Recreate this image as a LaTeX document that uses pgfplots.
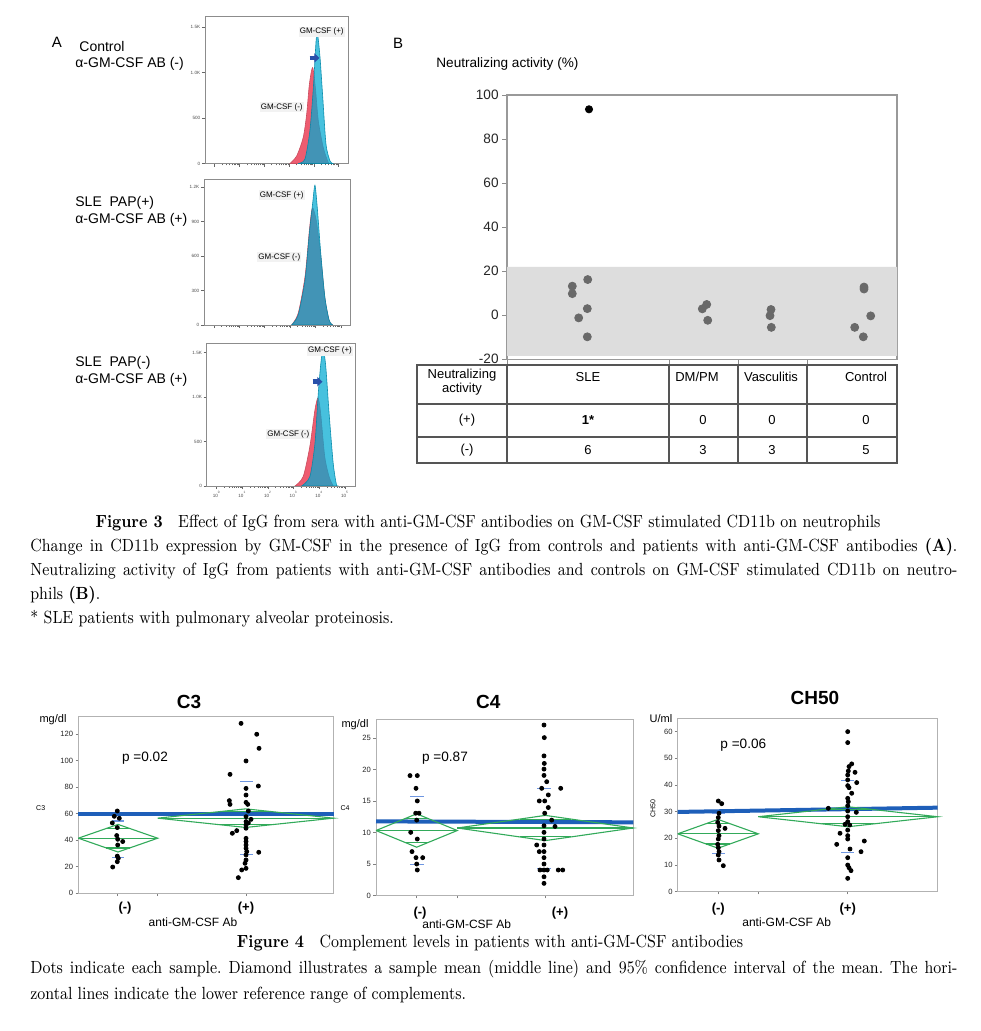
\documentclass[border=0pt]{standalone}
\usepackage{fontspec}
\usepackage{graphicx}
\usepackage{pgfplots}
\pgfplotsset{compat=1.18}
\usetikzlibrary{arrows.meta}
\newfontfamily\arial{Liberation Sans}
\frenchspacing

\definecolor{fcred}{RGB}{238,92,112}
\definecolor{fccyan}{RGB}{0,170,210}
\definecolor{arrowblue}{RGB}{40,80,170}
\definecolor{jblue}{RGB}{30,95,185}
\definecolor{jgreen}{RGB}{50,170,90}
\definecolor{sdblue}{RGB}{110,150,225}
\definecolor{ptgray}{RGB}{105,105,105}
\definecolor{bandgray}{RGB}{221,221,221}
\definecolor{tabline}{RGB}{85,85,85}

% condensed caption line: text stretched to the given width, then narrowed
\newcommand{\capline}[2]{\scalebox{0.88}[1]{\makebox[#1][s]{#2}}}
\newcommand{\capshort}[1]{\scalebox{0.88}[1]{#1}}

\pgfplotsset{
  histo/.style={scale only axis, anchor=south west, xmin=-0.39, xmax=5.39, ymin=0,
    axis line style={draw=black!45, line width=0.4pt},
    tick pos=left, tick align=outside, major tick length=1.6pt, minor tick length=0.9pt,
    every tick/.style={black!60, line width=0.3pt},
    xtick={0,1,2,3,4,5},
    minor xtick={0.301,0.477,0.602,0.699,0.778,0.845,0.903,0.954,1.301,1.477,1.602,1.699,1.778,1.845,1.903,1.954,2.301,2.477,2.602,2.699,2.778,2.845,2.903,2.954,3.301,3.477,3.602,3.699,3.778,3.845,3.903,3.954,4.301,4.477,4.602,4.699,4.778,4.845,4.903,4.954},
    xticklabels={},
    ticklabel style={font=\arial\fontsize{2.3}{2.5}\selectfont, text=black!70, inner sep=0.6pt}},
  redh/.style={fill=fcred, draw=fcred!85!black, line width=0.3pt, smooth, tension=0.45},
  cyanh/.style={fill=fccyan, fill opacity=0.72, draw=fccyan!80!black, draw opacity=0.9, line width=0.3pt, smooth, tension=0.45},
  comp/.style={scale only axis, anchor=south west, ymin=0,
    axis line style={draw=black!30, line width=0.5pt},
    tick pos=left, tick align=outside, major tick length=1.4pt,
    every tick/.style={black!50, line width=0.35pt},
    xticklabels={},
    /pgf/number format/assume math mode=true,
    yticklabel style={font=\arial\fontsize{3.8}{4}\selectfont, text=black!85, inner sep=1pt},
    clip=false},
  dots/.style={only marks, mark=*, mark size=1pt, black},
  dia/.style={jgreen, line width=0.55pt},
  sd/.style={sdblue, line width=0.6pt},
  refline/.style={jblue, line width=2pt},
}

\begin{document}
\begin{tikzpicture}
\fill[white] (0,0) rectangle (490pt,515.5pt);
\useasboundingbox (0,0) rectangle (490pt,515.5pt);

%% ---------- Figure 3 A: histograms ----------
\begin{axis}[histo, at={(102.5pt,433.75pt)}, width=71.65pt, height=73.75pt,
  ymax=1620, ytick={0,500,1000,1500}, yticklabels={0,500,1.0K,1.5K}]
\addplot[redh] coordinates {(3.04,0)(3.31,84)(3.57,285)(3.71,540)(3.82,870)(3.95,1054)(4.06,834)(4.18,468)(4.38,175)(4.58,11)(4.65,0)} \closedcycle;
\addplot[cyanh] coordinates {(3.37,0)(3.64,48)(3.84,359)(3.98,834)(4.09,1347)(4.15,1420)(4.25,1164)(4.36,725)(4.49,212)(4.65,29)(4.76,0)} \closedcycle;
\end{axis}

\begin{axis}[histo, at={(102pt,353pt)}, width=73.35pt, height=73pt,
  ymax=1270, ytick={0,300,600,900,1200}, yticklabels={0,300,600,900,1.2K}]
\addplot[redh] coordinates {(3.06,0)(3.32,100)(3.59,420)(3.76,820)(3.85,990)(3.91,1013)(4.04,900)(4.20,620)(4.37,240)(4.54,40)(4.68,0)} \closedcycle;
\addplot[cyanh] coordinates {(3.06,0)(3.32,87)(3.59,391)(3.76,796)(3.89,1057)(3.98,1216)(4.07,1028)(4.20,652)(4.37,246)(4.54,43)(4.68,0)} \closedcycle;
\end{axis}

\begin{axis}[histo, at={(103.35pt,272.5pt)}, width=74.15pt, height=71.35pt,
  ymax=1603, ytick={0,500,1000,1500}, yticklabels={0,500,1.0K,1.5K},
  xticklabels={10\textsuperscript{0},10\textsuperscript{1},10\textsuperscript{2},10\textsuperscript{3},10\textsuperscript{4},10\textsuperscript{5}}]
\addplot[redh] coordinates {(3.05,0)(3.37,105)(3.63,444)(3.83,857)(3.95,989)(4.05,820)(4.21,331)(4.38,105)(4.54,0)} \closedcycle;
\addplot[cyanh] coordinates {(3.31,0)(3.63,105)(3.83,481)(3.95,1008)(4.06,1384)(4.15,1534)(4.25,1346)(4.38,820)(4.54,256)(4.67,10)(4.73,0)} \closedcycle;
\end{axis}

%% ---------- Figure 3 B: neutralizing activity ----------
\begin{axis}[scale only axis, anchor=south west, at={(253.5pt,335.85pt)},
  width=195pt, height=132.15pt,
  xmin=507, xmax=897, ymin=-20, ymax=100,
  ytick={-20,0,20,40,60,80,100},
  xtick={507,669,738,807}, xticklabels={},
  axis line style={draw=black!40, line width=0.6pt},
  tick pos=left, tick align=outside, major tick length=2.5pt,
  every tick/.style={black!45, line width=0.4pt},
  /pgf/number format/assume math mode=true,
  yticklabel style={font=\arial\fontsize{6.8}{7}\selectfont, text=black!85, inner sep=1.5pt}]
\addplot[fill=bandgray, draw=none] coordinates {(507,-18.5)(897,-18.5)(897,22)(507,22)(507,-18.5)};
\addplot[only marks, mark=*, mark size=2pt, ptgray] coordinates {
  (572.3,13.2)(572.3,9.8)(587.7,16.2)(587.3,3.0)(578.7,-1.2)(587.3,-9.8)
  (702.3,2.9)(706.7,4.9)(707.7,-2.3)
  (771,2.6)(770,-0.2)(771.3,-5.5)
  (864,12.8)(864,11.9)(870.7,-0.3)(854.7,-5.5)(863.3,-9.8)};
\addplot[only marks, mark=*, mark size=1.8pt, black] coordinates {(589,93.5)};
\end{axis}

%% ---------- Figure 4: C3 ----------
\begin{axis}[comp, at={(39.15pt,68.85pt)}, width=127.6pt, height=88.15pt,
  xmin=78.3, xmax=333.5, ymax=132.8, ytick={0,20,40,60,80,100,120},
  xtick={117.5,157.7,246}]
\addplot[refline] coordinates {(78.3,59.7)(333.5,59.7)};
\addplot[dia] coordinates {(78.3,41.5)(118,51.9)(157.7,41.5)(118,31.1)(78.3,41.5)};
\addplot[dia] coordinates {(78.3,41.5)(157.7,41.5)};
\addplot[dia] coordinates {(106.4,48.85)(129.6,48.85)};
\addplot[dia] coordinates {(106.4,34.15)(129.6,34.15)};
\addplot[dia] coordinates {(157.7,56.6)(245.6,63.6)(333.5,56.6)(245.6,49.6)(157.7,56.6)};
\addplot[dia] coordinates {(157.7,56.6)(333.5,56.6)};
\addplot[dia] coordinates {(219.8,61.55)(271.4,61.55)};
\addplot[dia] coordinates {(219.8,51.65)(271.4,51.65)};
\addplot[sd] coordinates {(112,54.5)(124,54.5)};
\addplot[sd] coordinates {(112,27)(124,27)};
\addplot[sd] coordinates {(240,84)(253,84)};
\addplot[sd] coordinates {(240,29.4)(253,29.4)};
\addplot[dots] coordinates {(117.3,62)(114.3,58)(119.3,56.5)(112.3,53)(117.3,49.5)(116.7,43.5)(117.7,40.7)(122.7,39)(117.7,36.4)(117.3,28)(118.3,26.4)(117.3,23.8)(112.7,19.8)};
\addplot[dots] coordinates {(241,128)(256.7,119.8)(259,109.2)(246,99.7)(230,89.6)(258.3,80.8)(246,79)(246,74)(229.3,69.8)(246,68.5)(230,67)(247.7,67)(248.3,62)(246,57.7)(251,55.7)(246,54)(248.3,53)(246,51.5)(246,49)(236.7,47.2)(232.3,45.2)(246,41.4)(246,39)(246,36.4)(246,33.9)(246.7,31.4)(258.7,30.9)(246,28.9)(246,25.1)(245,22.6)(246,18.8)(241.7,17.6)(238.3,11.8)};
\end{axis}

%% ---------- Figure 4: C4 ----------
\begin{axis}[comp, at={(188pt,67.65pt)}, width=128.65pt, height=87.85pt,
  xmin=376, xmax=633.3, ymax=27.9, ytick={0,5,10,15,20,25},
  xtick={416.7,457.3,545}]
\addplot[refline] coordinates {(376,11.8)(633.3,11.65)};
\addplot[dia] coordinates {(376,10.35)(416.65,13)(457.3,10.35)(416.65,7.7)(376,10.35)};
\addplot[dia] coordinates {(376,10.35)(457.3,10.35)};
\addplot[dia] coordinates {(404.75,12.22)(428.55,12.22)};
\addplot[dia] coordinates {(404.75,8.48)(428.55,8.48)};
\addplot[dia] coordinates {(457.3,10.75)(545.3,12.75)(633.3,10.75)(545.3,8.75)(457.3,10.75)};
\addplot[dia] coordinates {(457.3,10.75)(633.3,10.75)};
\addplot[dia] coordinates {(519.5,12.16)(571.1,12.16)};
\addplot[dia] coordinates {(519.5,9.34)(571.1,9.34)};
\addplot[sd] coordinates {(410,15.7)(424,15.7)};
\addplot[sd] coordinates {(410,5.0)(424,5.0)};
\addplot[sd] coordinates {(537,17.05)(551,17.05)};
\addplot[sd] coordinates {(537,4.3)(551,4.3)};
\addplot[dots] coordinates {(410,19.07)(417.3,19.07)(416,17.05)(417.3,15.04)(415.7,13.1)(419,13.1)(416.7,12.0)(410.7,10.06)(417.3,9.0)(412,7.0)(416,6.04)(422.7,6.04)(416.7,5.03)(417.3,4.08)};
\addplot[dots] coordinates {(544,27.1)(544.3,25.1)(544,22.2)(544.3,21.0)(544,20.1)(544,19.1)(546.7,18.1)(541.7,17.05)(560.7,17.05)(548.3,16.0)(539.3,15.04)(544.7,15.04)(548.3,14.0)(544.7,13.1)(551.7,12.0)(544,11.1)(555,11.0)(544,10.06)(544,9.0)(544,8.05)(536.7,8.05)(539.3,7.0)(544,7.0)(544,6.04)(544,5.03)(540,4.08)(544,4.08)(547.3,4.08)(558.3,4.08)(562.7,4.08)(544,3.0)(544,1.96)};
\end{axis}

%% ---------- Figure 4: CH50 ----------
\begin{axis}[comp, at={(338.85pt,69.65pt)}, width=130pt, height=86.7pt,
  xmin=677.7, xmax=937.7, ymax=65, ytick={0,10,20,30,40,50,60},
  xtick={718.3,758.3,847.7}]
\addplot[refline] coordinates {(677.7,29.9)(937.7,31.5)};
\addplot[dia] coordinates {(677.7,21.7)(718,27.1)(758.3,21.7)(718,16.3)(677.7,21.7)};
\addplot[dia] coordinates {(677.7,21.7)(758.3,21.7)};
\addplot[dia] coordinates {(706.2,25.52)(729.8,25.52)};
\addplot[dia] coordinates {(706.2,17.88)(729.8,17.88)};
\addplot[dia] coordinates {(758.3,28.1)(848,31.85)(937.7,28.1)(848,24.35)(758.3,28.1)};
\addplot[dia] coordinates {(758.3,28.1)(937.7,28.1)};
\addplot[dia] coordinates {(821.7,30.75)(874.3,30.75)};
\addplot[dia] coordinates {(821.7,25.45)(874.3,25.45)};
\addplot[sd] coordinates {(712,29.3)(725,29.3)};
\addplot[sd] coordinates {(712,14.2)(725,14.2)};
\addplot[sd] coordinates {(841,41.6)(854,41.6)};
\addplot[sd] coordinates {(841,14.6)(854,14.6)};
\addplot[dots] coordinates {(718.3,34)(721.7,33)(719,29.4)(718.3,27.8)(717.7,26)(719,24.6)(725,23.75)(718.3,22.9)(719,21)(718.3,19.75)(717.7,17.75)(718.3,16.5)(719,15)(718.3,13.75)(719,11.9)(723.3,9.75)};
\addplot[dots] coordinates {(847.7,60)(847.7,55.9)(851.7,47.9)(849,46.9)(848.3,45.25)(855,44.75)(847.7,43.75)(847.7,41.9)(856.7,40.9)(847.7,39.75)(849,39)(851.7,36.9)(847.7,35)(848.3,33.75)(847.7,32.25)(828.3,31.25)(847.7,30.25)(856.3,29.75)(847.7,28.1)(847.7,26.25)(845,25.25)(849.7,25)(847.7,23.1)(840,21.9)(847.7,21)(847.7,19.75)(864.3,19)(836.7,17.75)(850,16)(861,15)(847.7,12.75)(847.7,10)(849,9)(851,7.9)(847.7,5)};
\end{axis}

%% ---------- texts, table and captions (pixel grid of the page) ----------
\begin{scope}[x=0.5pt, y=-0.5pt, shift={(0pt,515.5pt)}]
  % panel A
  \node[font=\arial\fontsize{7.5}{8}\selectfont] at (57,42) {A};
  \begin{scope}[every node/.style={anchor=west, inner sep=0, font=\arial\fontsize{7}{8}\selectfont}]
    \node at (79,47) {Control};
    \node at (75,63.5) {α-GM-CSF AB (-)};
    \node at (75,203) {SLE\ \ PAP(+)};
    \node at (75,220) {α-GM-CSF AB (+)};
    \node at (75,363) {SLE\ \ PAP(-)};
    \node at (75,380) {α-GM-CSF AB (+)};
  \end{scope}
  \begin{scope}[every node/.style={inner sep=0.6pt, fill=black!5, font=\arial\fontsize{4}{4.5}\selectfont}]
    \node at (321.7,31.7) {GM-CSF\ (+)};
    \node at (281.7,107.3) {GM-CSF\ (-)};
    \node at (281.7,195) {GM-CSF\ (+)};
    \node at (279.3,257.3) {GM-CSF\ (-)};
    \node at (330,350.7) {GM-CSF\ (+)};
    \node at (288.3,434) {GM-CSF\ (-)};
  \end{scope}
  \draw[arrowblue, line width=2.2pt, -{Triangle[length=2.6pt, width=4.6pt]}] (309.5,58) -- (319.5,58);
  \draw[arrowblue, line width=2.2pt, -{Triangle[length=2.6pt, width=4.6pt]}] (312.5,381.7) -- (322.5,381.7);

  % panel B
  \node[font=\arial\fontsize{7.5}{8}\selectfont] at (398,43) {B};
  \node[anchor=west, inner sep=0, font=\arial\fontsize{6.8}{7}\selectfont] at (436,64.5) {Neutralizing activity (\%)};

  % table
  \draw[tabline, line width=0.6pt] (417,365) rectangle (897,463);
  \draw[tabline, line width=0.6pt] (417,404) -- (897,404) (417,437) -- (897,437);
  \foreach \xx in {507,669,738,807} \draw[tabline, line width=0.6pt] (\xx,365) -- (\xx,463);
  \begin{scope}[every node/.style={inner sep=0, font=\arial\fontsize{6.5}{6}\selectfont}]
    \node[align=center] at (462,382.5) {Neutralizing\\activity};
    \node at (588,377) {SLE};
    \node at (697,377) {DM/PM};
    \node at (771,377) {Vasculitis};
    \node at (866,377) {Control};
    \node at (467,420.5) {(+)};
    \node at (588,420.5) {\bfseries 1*};
    \node at (703,420.5) {0};
    \node at (772,420.5) {0};
    \node at (866,420.5) {0};
    \node at (467,450) {(-)};
    \node at (588,450) {6};
    \node at (703,450) {3};
    \node at (772,450) {3};
    \node at (866,450) {5};
  \end{scope}

  % caption of figure 3
  \begin{scope}[every node/.style={inner sep=0, font=\fontsize{8.8}{10}\selectfont}]
    \node[anchor=base] at (488,527.5) {\capshort{\textbf{Figure 3}\quad Effect of IgG from sera with anti-GM-CSF antibodies on GM-CSF stimulated CD11b on neutrophils}};
    \node[anchor=base west] at (30,552) {\capline{526.7pt}{Change in CD11b expression by GM-CSF in the presence of IgG from controls and patients with anti-GM-CSF antibodies \textbf{(A)}.}};
    \node[anchor=base west] at (30,576) {\capline{526.7pt}{Neutralizing activity of IgG from patients with anti-GM-CSF antibodies and controls on GM-CSF stimulated CD11b on neutro-}};
    \node[anchor=base west] at (30,600) {\capshort{phils \textbf{(B)}.}};
    \node[anchor=base west] at (30,624) {\capshort{* SLE patients with pulmonary alveolar proteinosis.}};
    % caption of figure 4
    \node[anchor=base] at (490,948) {\capshort{\textbf{Figure 4}\quad Complement levels in patients with anti-GM-CSF antibodies}};
    \node[anchor=base west] at (30,974) {\capline{526.7pt}{Dots indicate each sample. Diamond illustrates a sample mean (middle line) and 95\% confidence interval of the mean. The hori-}};
    \node[anchor=base west] at (30,999) {\capshort{zontal lines indicate the lower reference range of complements.}};
  \end{scope}

  % figure 4 panel texts
  \begin{scope}[every node/.style={inner sep=0, font=\arial\fontsize{6}{7}\selectfont}]
    \node[font=\arial\bfseries\fontsize{9.5}{10}\selectfont] at (189,702) {C3};
    \node[font=\arial\bfseries\fontsize{9.5}{10}\selectfont] at (488.3,701.7) {C4};
    \node[font=\arial\bfseries\fontsize{9.5}{10}\selectfont] at (815,698.3) {CH50};
    \node[font=\arial\fontsize{5.5}{6}\selectfont] at (53,720) {mg/dl};
    \node[font=\arial\fontsize{5.5}{6}\selectfont] at (355,725) {mg/dl};
    \node[font=\arial\fontsize{5.5}{6}\selectfont] at (661,719) {U/ml};
    \node[font=\arial\fontsize{3.5}{4}\selectfont] at (40.7,807.7) {C3};
    \node[font=\arial\fontsize{3.5}{4}\selectfont] at (345,808.3) {C4};
    \node[font=\arial\fontsize{3.5}{4}\selectfont, rotate=90] at (653,809) {CH50};
    \node[font=\arial\fontsize{6.8}{7}\selectfont] at (145,757.7) {p =0.02};
    \node[font=\arial\fontsize{6.8}{7}\selectfont] at (445,757.7) {p =0.87};
    \node[font=\arial\fontsize{6.8}{7}\selectfont] at (743.3,745) {p =0.06};
    \node[font=\arial\bfseries\fontsize{6.5}{7}\selectfont] at (125,907.7) {(-)};
    \node[font=\arial\bfseries\fontsize{6.5}{7}\selectfont] at (246,907.7) {(+)};
    \node[font=\arial\bfseries\fontsize{6.5}{7}\selectfont] at (420,913) {(-)};
    \node[font=\arial\bfseries\fontsize{6.5}{7}\selectfont] at (560,913) {(+)};
    \node[font=\arial\bfseries\fontsize{6.5}{7}\selectfont] at (718.3,909) {(-)};
    \node[font=\arial\bfseries\fontsize{6.5}{7}\selectfont] at (847.7,909) {(+)};
    \node at (193,922.3) {anti-GM-CSF Ab};
    \node at (466.7,924.3) {anti-GM-CSF Ab};
    \node at (786.7,922.3) {anti-GM-CSF Ab};
  \end{scope}
\end{scope}
\end{tikzpicture}
\end{document}
